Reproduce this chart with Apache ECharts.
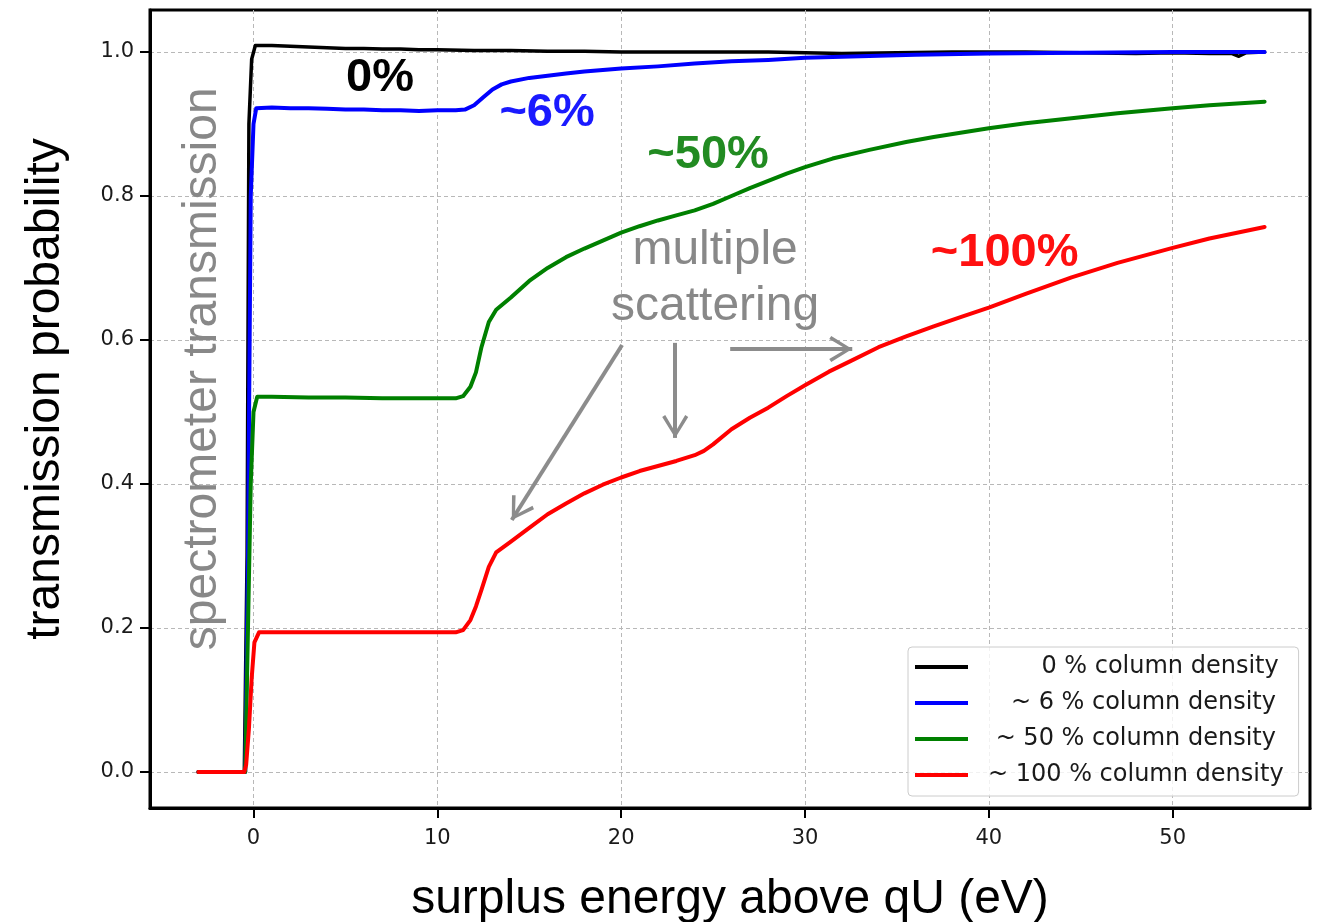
<!DOCTYPE html>
<html>
<head>
<meta charset="utf-8">
<title>transmission probability</title>
<script src="https://cdn.jsdelivr.net/npm/echarts@6/dist/echarts.min.js"></script>
<style>
  html, body { margin: 0; padding: 0; background: #fff; }
  #main { width: 1320px; height: 922px; }
</style>
</head>
<body>
<div id="main"></div>
<script>
// values: surplus energy (eV) -> transmission probability

const names = ['       0 % column density', '   ~ 6 % column density', ' ~ 50 % column density', '~ 100 % column density']

const eBlack = [-3, -1, -0.5, -0.35, -0.25, -0.1, 0.1, 1, 2, 3, 4, 5, 6, 7, 8, 9, 10, 12, 14, 16, 18, 20, 25, 28, 30, 32, 35, 38, 40, 42, 45, 48, 50, 52, 53.2, 53.6, 54, 55]
const tBlack = [0, 0, 0, 0.3, 0.9, 0.99, 1.009, 1.009, 1.008, 1.007, 1.006, 1.005, 1.005, 1.004, 1.004, 1.003, 1.003, 1.002, 1.002, 1.001, 1.001, 1.0, 1.0, 1.0, 0.999, 0.998, 0.999, 1.0, 1.0, 1.0, 0.999, 0.998, 0.999, 0.998, 0.998, 0.994, 0.999, 1.0]

const eBlue = [-3, -1, -0.45, -0.3, -0.15, 0, 0.15, 1, 2, 3, 4, 5, 6, 7, 8, 9, 10, 11, 11.5, 12, 12.5, 13, 13.5, 14, 15, 16, 17, 18, 19, 20, 22, 24, 26, 28, 30, 33, 36, 40, 45, 50, 55]
const tBlue = [0, 0, 0, 0.3, 0.8, 0.9, 0.922, 0.923, 0.922, 0.922, 0.921, 0.920, 0.920, 0.919, 0.919, 0.918, 0.919, 0.919, 0.920, 0.926, 0.937, 0.948, 0.955, 0.959, 0.964, 0.967, 0.970, 0.973, 0.975, 0.977, 0.980, 0.984, 0.987, 0.989, 0.992, 0.994, 0.996, 0.998, 0.999, 1.0, 1.0]

const eGreen = [-3, -1, -0.45, -0.3, -0.15, 0, 0.2, 1, 3, 5, 7, 9, 10, 11, 11.4, 11.8, 12.1, 12.4, 12.8, 13.2, 14, 15, 16, 17, 18, 19, 20, 21, 22, 23, 24, 25, 26, 27, 28, 29, 30, 31.5, 33.5, 35.5, 37, 40, 42, 44.5, 47, 50, 52, 55]
const tGreen = [0, 0, 0, 0.2, 0.4, 0.5, 0.521, 0.521, 0.520, 0.520, 0.519, 0.519, 0.519, 0.519, 0.522, 0.535, 0.555, 0.59, 0.625, 0.642, 0.659, 0.682, 0.700, 0.715, 0.727, 0.738, 0.749, 0.758, 0.766, 0.773, 0.780, 0.789, 0.800, 0.811, 0.821, 0.831, 0.840, 0.852, 0.864, 0.875, 0.882, 0.894, 0.901, 0.908, 0.915, 0.922, 0.926, 0.931]

const eRed = [-3, -1, -0.5, -0.4, -0.25, -0.1, 0.05, 0.3, 2, 5, 8, 11, 11.4, 11.8, 12.1, 12.4, 12.8, 13.2, 14, 15, 16, 17, 18, 19, 20, 21, 22, 23, 24, 24.5, 25, 26, 27, 28, 29, 30, 31.3, 32.5, 34, 35.5, 37, 38.5, 40, 42, 44.5, 47, 50, 52, 55]
const tRed = [0, 0, 0, 0.01, 0.06, 0.13, 0.18, 0.194, 0.194, 0.194, 0.194, 0.194, 0.197, 0.211, 0.23, 0.253, 0.285, 0.305, 0.320, 0.339, 0.358, 0.373, 0.387, 0.399, 0.409, 0.418, 0.425, 0.432, 0.440, 0.446, 0.455, 0.476, 0.492, 0.506, 0.522, 0.537, 0.556, 0.571, 0.590, 0.605, 0.619, 0.632, 0.645, 0.664, 0.687, 0.707, 0.728, 0.741, 0.757]

const xTicks = [0, 10, 20, 30, 40, 50]
const yTicks = [0, 0.2, 0.4, 0.6, 0.8, 1.0]

function pairs(xs, ys) {
  return xs.map((x, i) => [x, ys[i]])
}

const colors = ['#000000', '#0000ff', '#008000', '#ff0000']
const widths = [3.5, 4, 4, 4]
const sets = [[eBlack, tBlack], [eBlue, tBlue], [eGreen, tGreen], [eRed, tRed]]

const sans = 'Liberation Sans'
const mpl = 'DejaVu Sans'

// open V arrow head, tip pointing up
const head = 'path://M13,0 L26,21 L23,23 L13,6 L3,23 L0,21 Z'

const chart = echarts.init(document.getElementById('main'))

const series = sets.map((s, i) => ({
  name: names[i],
  type: 'line',
  data: pairs(s[0], s[1]),
  showSymbol: false,
  smooth: false,
  color: colors[i],
  lineStyle: { color: colors[i], width: widths[i], join: 'round', cap: 'round' },
  z: 3 + i
}))

// annotations (text + arrows) in data coordinates
const txt = (name, coord, color) => ({
  name: name,
  coord: coord,
  label: { color: color }
})

series.push({
  name: 'notes',
  type: 'line',
  data: [],
  z: 10,
  markPoint: {
    silent: true,
    symbol: 'circle',
    symbolSize: 1,
    itemStyle: { color: 'rgba(0,0,0,0)' },
    label: {
      show: true,
      position: 'inside',
      formatter: '{b}',
      fontFamily: sans,
      fontSize: 47,
      fontWeight: 'bold'
    },
    data: [
      txt('0%', [6.88, 0.964], '#000000'),
      txt('~6%', [15.97, 0.915], '#1a1aff'),
      txt('~50%', [24.73, 0.857], '#228b22'),
      txt('~100%', [40.86, 0.721], '#ff1010'),
      {
        name: 'multiple\nscattering',
        coord: [25.11, 0.685],
        label: { color: '#888888', fontWeight: 'normal', fontSize: 48, lineHeight: 56, align: 'center' }
      },
      {
        name: 'spectrometer transmission',
        coord: [-2.75, 0.56],
        label: { color: '#888888', fontWeight: 'normal', fontSize: 48, rotate: 90 }
      }
    ]
  },
  markLine: {
    silent: true,
    symbol: ['none', head],
    symbolSize: [26, 23],
    symbolOffset: [0, [0, 11.5]],
    lineStyle: { color: '#8c8c8c', width: 4, type: 'solid' },
    label: { show: false },
    data: [
      [{ coord: [20.05, 0.593] }, { coord: [14.05, 0.35] }],
      [{ coord: [22.94, 0.596] }, { coord: [22.94, 0.464] }],
      [{ coord: [25.93, 0.5875] }, { coord: [32.57, 0.5875] }]
    ]
  }
})

const option = {
  animation: false,
  backgroundColor: '#ffffff',
  grid: {
    left: 150, right: 10, top: 10, bottom: 114,
    containLabel: false,
    outerBoundsMode: 'none',
    show: true,
    borderColor: '#000',
    borderWidth: 3
  },
  legend: {
    data: names,
    orient: 'vertical',
    left: 908,
    top: 647,
    padding: [6, 15, 7, 7],
    itemGap: 8,
    itemWidth: 53,
    itemHeight: 4,
    icon: 'rect',
    backgroundColor: 'rgba(255,255,255,0.8)',
    borderColor: '#cccccc',
    borderWidth: 1,
    borderRadius: 4,
    textStyle: {
      fontFamily: mpl,
      fontSize: 24,
      lineHeight: 28,
      color: '#1a1a1a',
      padding: [0, 0, 0, 15]
    }
  },
  xAxis: {
    type: 'value',
    min: -5.63,
    max: 57.47,
    name: 'surplus energy above qU (eV)',
    nameLocation: 'middle',
    nameGap: 68,
    nameTextStyle: { fontFamily: sans, fontSize: 48, color: '#000' },
    axisLine: { show: true, onZero: false, lineStyle: { color: '#000', width: 3 } },
    axisTick: { show: true, length: 10, lineStyle: { color: '#000', width: 2 }, customValues: xTicks },
    axisLabel: { fontFamily: mpl, fontSize: 21, color: '#1a1a1a', margin: 20, customValues: xTicks },
    splitLine: { show: true, lineStyle: { color: '#b8b8b8', width: 1, type: [4, 3] } }
  },
  yAxis: {
    type: 'value',
    min: -0.05,
    max: 1.0583,
    name: 'transmission probability',
    nameLocation: 'middle',
    nameGap: 80,
    nameTextStyle: { fontFamily: sans, fontSize: 48, color: '#000', padding: [0, 0, 0, 40] },
    axisLine: { show: true, onZero: false, lineStyle: { color: '#000', width: 3 } },
    axisTick: { show: true, length: 10, lineStyle: { color: '#000', width: 2 }, customValues: yTicks },
    axisLabel: {
      fontFamily: mpl, fontSize: 21, color: '#1a1a1a', margin: 16,
      customValues: yTicks,
      formatter: v => v.toFixed(1)
    },
    splitLine: { show: true, lineStyle: { color: '#b8b8b8', width: 1, type: [4, 3] } }
  },
  series: series
}

chart.setOption(option)
</script>
</body>
</html>
